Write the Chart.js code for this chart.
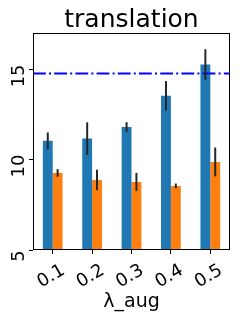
<!DOCTYPE html>
<html>
<head>
<meta charset="utf-8">
<script src="https://cdn.jsdelivr.net/npm/chart.js@4"></script>
<style>
  html, body { margin: 0; padding: 0; background: #fff; }
</style>
</head>
<body>
<canvas id="chart" width="240" height="321"></canvas>
<script>
// Data
const categories = ['0.1', '0.2', '0.3', '0.4', '0.5'];
const blueValues = [11.06, 11.19, 11.83, 13.56, 15.30];
const blueErrors = [0.47, 0.90, 0.27, 0.82, 0.85];
const orangeValues = [9.28, 8.89, 8.78, 8.56, 9.89];
const orangeErrors = [0.21, 0.57, 0.50, 0.13, 0.80];
const yTicks = [5, 10, 15];
const baseline = 14.8;

const FONT = '"DejaVu Sans", sans-serif';

// error bars, dash-dot reference line, frame and all text
const decorations = {
    id: 'decorations',
    afterDatasetsDraw(chart) {
        const { ctx, chartArea: a, scales: { y } } = chart;
        ctx.save();
        const ly = y.getPixelForValue(baseline);
        ctx.strokeStyle = '#0000ff';
        ctx.lineWidth = 2;
        ctx.setLineDash([12.8, 3.2, 2, 3.2]);
        ctx.beginPath();
        ctx.moveTo(a.left, ly);
        ctx.lineTo(a.right, ly);
        ctx.stroke();
        ctx.setLineDash([]);

        ctx.strokeStyle = '#262626';
        ctx.lineWidth = 2;
        [blueErrors, orangeErrors].forEach((errs, di) => {
            const vals = chart.data.datasets[di].data;
            chart.getDatasetMeta(di).data.forEach((bar, i) => {
                ctx.beginPath();
                ctx.moveTo(bar.x, y.getPixelForValue(vals[i] - errs[i]));
                ctx.lineTo(bar.x, y.getPixelForValue(vals[i] + errs[i]));
                ctx.stroke();
            });
        });
        ctx.restore();
    },
    afterDraw(chart) {
        const { ctx, chartArea: a, scales: { x, y } } = chart;
        ctx.save();
        ctx.strokeStyle = '#000';
        ctx.lineWidth = 1;
        ctx.strokeRect(a.left + 0.5, a.top + 0.5, a.right - a.left - 1, a.bottom - a.top - 1);

        ctx.fillStyle = '#000';
        ctx.textAlign = 'center';

        // title
        ctx.font = '25px ' + FONT;
        ctx.textBaseline = 'alphabetic';
        ctx.fillText('translation', (a.left + a.right) / 2, 27);

        // y tick labels, rotated
        ctx.font = '18px ' + FONT;
        yTicks.forEach(t => {
            ctx.save();
            ctx.translate(a.left - 9, y.getPixelForValue(t) + 6);
            ctx.rotate(-Math.PI / 2);
            ctx.fillText(String(t), 0, 0);
            ctx.restore();
        });

        // x tick labels, rotated 30 degrees
        ctx.textBaseline = 'middle';
        categories.forEach((c, i) => {
            ctx.save();
            ctx.translate(x.getPixelForValue(i) - 1.5, a.bottom + 26.5);
            ctx.rotate(-Math.PI / 6);
            ctx.fillText(c, 0, 0);
            ctx.restore();
        });

        // x axis title
        ctx.font = '19px ' + FONT;
        ctx.textBaseline = 'alphabetic';
        ctx.fillText('λ_aug', (a.left + a.right) / 2, 307);
        ctx.restore();
    }
};

const ctx = document.getElementById('chart').getContext('2d');
const chart = new Chart(ctx, {
    type: 'bar',
    data: {
        labels: categories,
        datasets: [
            { data: blueValues, backgroundColor: '#1f77b4', categoryPercentage: 0.5, barPercentage: 1.0 },
            { data: orangeValues, backgroundColor: '#ff7f0e', categoryPercentage: 0.5, barPercentage: 1.0 }
        ]
    },
    options: {
        responsive: false,
        animation: false,
        layout: { padding: { left: 0, right: 10, top: 33, bottom: 0 } },
        plugins: {
            legend: { display: false },
            tooltip: { enabled: false }
        },
        scales: {
            x: {
                grid: { offset: false, drawOnChartArea: false, drawTicks: true, tickLength: 4, tickColor: '#000' },
                border: { display: false },
                ticks: { display: false },
                afterFit(scale) { scale.height = 71; }
            },
            y: {
                min: 5,
                max: 17.05,
                grid: { drawOnChartArea: false, drawTicks: true, tickLength: 4, tickColor: '#000' },
                border: { display: false },
                ticks: { display: false },
                afterBuildTicks(scale) { scale.ticks = yTicks.map(v => ({ value: v })); },
                afterFit(scale) { scale.width = 33; }
            }
        }
    },
    plugins: [decorations]
});
</script>
</body>
</html>
